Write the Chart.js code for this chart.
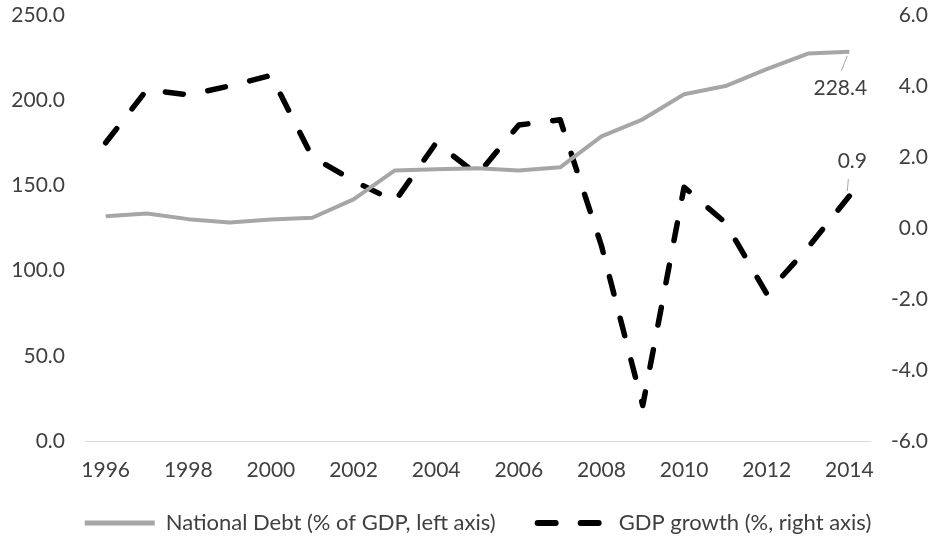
<!DOCTYPE html>
<html>
<head>
<meta charset="utf-8">
<script src="https://cdn.jsdelivr.net/npm/chart.js@4"></script>
<style>
  html, body { margin: 0; padding: 0; background: #fff; }
  #wrap { width: 936px; height: 544px; position: relative; }
</style>
</head>
<body>
<div id="wrap"><canvas id="chart"></canvas></div>
<script>
const years = ['1996','1997','1998','1999','2000','2001','2002','2003','2004','2005',
               '2006','2007','2008','2009','2010','2011','2012','2013','2014'];
const debtValues = [131.9, 133.5, 130.2, 128.2, 130.0, 131.0, 141.8, 158.8, 159.5, 160.0,
                    158.8, 160.6, 178.8, 188.8, 203.5, 208.3, 218.2, 227.4, 228.4];
const growthValues = [2.4, 3.9, 3.75, 4.0, 4.3, 2.0, 1.33, 0.75, 2.4, 1.5,
                      2.9, 3.05, -0.5, -5.0, 1.15, 0.15, -1.85, -0.55, 0.9];
const leftTicks = [0, 50, 100, 150, 200, 250];
const rightTicks = [-6, -4, -2, 0, 2, 4, 6];

const textColor = '#404040';
const tickFont = { family: 'Lato', size: 21 };

// labels on the last point of each series, with a short leader line
const endLabels = {
    id: 'endLabels',
    afterDatasetsDraw(chart) {
        const ctx = chart.ctx;
        ctx.save();
        ctx.font = '21px Lato';
        ctx.fillStyle = textColor;
        ctx.textAlign = 'center';
        ctx.textBaseline = 'middle';
        ctx.strokeStyle = '#a6a6a6';
        ctx.lineWidth = 1;
        chart.data.datasets.forEach((ds, i) => {
            const meta = chart.getDatasetMeta(i);
            const pt = meta.data[meta.data.length - 1];
            const val = ds.data[ds.data.length - 1];
            const below = i === 0;
            const dy = below ? 36 : -35;
            const dx = below ? -9 : 3;
            ctx.beginPath();
            ctx.moveTo(pt.x - 2, pt.y + (below ? 4 : -5));
            ctx.lineTo(pt.x - (below ? 8 : 1), pt.y + (below ? 19 : -17));
            ctx.stroke();
            ctx.fillText(val.toFixed(1), pt.x + dx, pt.y + dy);
        });
        ctx.restore();
    }
};

// keep the plot area top where the reference has it
function fixPadding(scale) {
    scale.paddingTop = 15;
    scale.paddingBottom = 12;
}

new Chart(document.getElementById('chart'), {
    type: 'line',
    data: {
        labels: years,
        datasets: [{
            label: 'National Debt (% of GDP, left axis)',
            data: debtValues,
            yAxisID: 'y',
            borderColor: '#a6a6a6',
            backgroundColor: '#a6a6a6',
            borderWidth: 4,
            pointRadius: 0,
            tension: 0,
            borderJoinStyle: 'round'
        }, {
            label: 'GDP growth (%, right axis)',
            data: growthValues,
            yAxisID: 'y1',
            borderColor: '#000000',
            backgroundColor: '#000000',
            borderWidth: 5.5,
            borderDash: [18, 25],
            borderCapStyle: 'round',
            borderJoinStyle: 'round',
            pointRadius: 0,
            tension: 0
        }]
    },
    options: {
        responsive: true,
        maintainAspectRatio: false,
        animation: false,
        layout: { padding: { top: 0, bottom: 0, left: 0, right: 8 } },
        plugins: {
            tooltip: { enabled: false },
            legend: {
                position: 'bottom',
                labels: {
                    color: textColor,
                    font: { family: 'Lato', size: 22 },
                    usePointStyle: true,
                    pointStyle: 'line',
                    pointStyleWidth: 98,
                    padding: 14,
                    generateLabels(chart) {
                        const items = Chart.defaults.plugins.legend.labels.generateLabels(chart);
                        items.forEach((it, i) => {
                            it.pointStyle = 'line';
                            // sample line sits in the right 70px of the box
                            it.lineDashOffset = -28;
                            if (i === 1) {
                                it.lineDash = [18, 25, 18, 1000];
                                it.lineCap = 'round';
                                it.lineWidth = 6;
                            } else {
                                it.lineDash = [70, 1000];
                                it.lineWidth = 5;
                            }
                        });
                        return items;
                    }
                }
            }
        },
        scales: {
            x: {
                offset: true,
                grid: { display: false, drawTicks: false },
                border: { display: true, color: '#d9d9d9', width: 1 },
                ticks: {
                    color: textColor,
                    font: tickFont,
                    autoSkip: false,
                    maxRotation: 0,
                    padding: 17,
                    callback: function (value, index) {
                        return index % 2 === 0 ? years[index] : '';
                    }
                },
                afterFit(scale) { scale.height = 57; }
            },
            y: {
                position: 'left',
                min: 0,
                max: 250,
                grid: { display: false, drawTicks: false },
                border: { display: false },
                afterBuildTicks(scale) { scale.ticks = leftTicks.map(v => ({ value: v })); },
                ticks: {
                    color: textColor,
                    font: tickFont,
                    padding: 20,
                    callback: v => v.toFixed(1)
                },
                afterFit(scale) { scale.width = 85; fixPadding(scale); }
            },
            y1: {
                position: 'right',
                min: -6,
                max: 6,
                grid: { display: false, drawTicks: false },
                border: { display: false },
                afterBuildTicks(scale) { scale.ticks = rightTicks.map(v => ({ value: v })); },
                ticks: {
                    color: textColor,
                    font: tickFont,
                    crossAlign: 'far',
                    padding: 10,
                    callback: v => v.toFixed(1)
                },
                afterFit(scale) { scale.width = 58; fixPadding(scale); }
            }
        }
    },
    plugins: [endLabels]
});
</script>
</body>
</html>
